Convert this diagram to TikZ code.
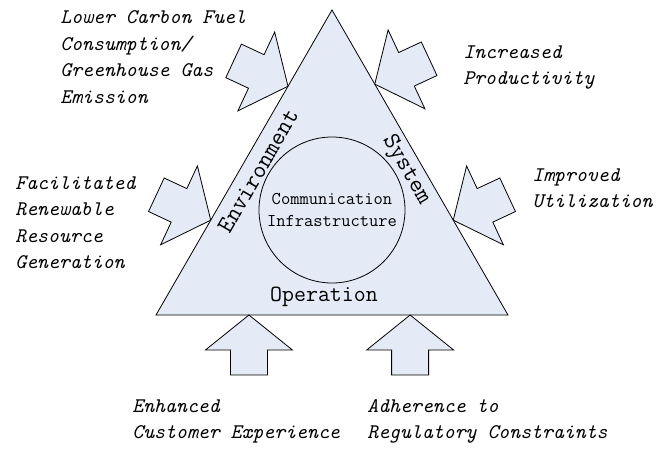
\documentclass[tikz,border=0pt]{standalone}
\usepackage{fontspec}
\definecolor{paleblue}{RGB}{228,234,246}

\begin{document}
\begin{tikzpicture}[x=1pt, y=-1pt, line width=0.8pt,
		benefit/.style={font=\fontsize{20.8}{26.5}\selectfont\ttfamily\itshape, align=left, inner sep=0pt, anchor=west},
		side/.style={font=\fontsize{24.5}{26}\selectfont\ttfamily, inner sep=0pt},
		core/.style={circle, draw, minimum size=146pt, inner sep=0pt, align=center, font=\fontsize{18}{22}\selectfont\ttfamily},
		pics/push/.style={code={
			\draw[fill=paleblue] (0,0) -- (-35,43.5) -- (-35,18.5) -- (-60,18.5) -- (-60,-18.5) -- (-35,-18.5) -- (-35,-43.5) -- cycle;
		}}
	]
	\useasboundingbox (0,0) rectangle (665,450);
	% the triangle and the points where the benefits push on it
	\coordinate (apex) at (332,10);
	\coordinate (bl) at (156,315);
	\coordinate (br) at (508,315);
	\draw[fill=paleblue] (apex) -- (bl) -- (br) -- cycle;
	\path (bl) -- (apex) coordinate[pos=0.311] (envlow) coordinate[pos=0.75] (envhigh);
	\path (br) -- (apex) coordinate[pos=0.311] (syslow) coordinate[pos=0.757] (syshigh);
	\path (bl) -- (br) coordinate[pos=0.264] (opleft) coordinate[pos=0.722] (opright);

	\node[core] (infra) at (332,210) {Communication\\Infrastructure};
	\node[side, rotate=60] (env) at (258,171) {Environment};
	\node[side, rotate=-60] (sys) at (406,170) {System};
	\node[side, font=\fontsize{23.2}{26}\selectfont\ttfamily] (op) at (324,297) {Operation};

	\pic[rotate=-25] at (envhigh) {push};
	\pic[rotate=-25] at (envlow) {push};
	\pic[rotate=205] at (syshigh) {push};
	\pic[rotate=205] at (syslow) {push};
	\pic[rotate=90] at (opleft) {push};
	\pic[rotate=90] at (opright) {push};

	\node[benefit] (fuel) at (60,57) {Lower Carbon Fuel\\Consumption/\\Greenhouse Gas\\Emission};
	\node[benefit] (renew) at (15,222.5) {Facilitated\\Renewable\\Resource\\Generation};
	\node[benefit] (prod) at (463,67.5) {Increased\\Productivity};
	\node[benefit] (util) at (532,188.5) {Improved\\Utilization};
	\node[benefit] (cust) at (132,421.5) {Enhanced\\Customer Experience};
	\node[benefit] (rules) at (367,421.5) {Adherence to\\Regulatory Constraints};
\end{tikzpicture}
\end{document}
